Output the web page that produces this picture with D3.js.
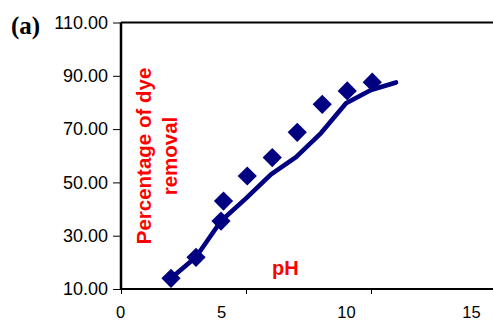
<!DOCTYPE html>
<html>
<head>
<meta charset="utf-8">
<script src="https://cdn.jsdelivr.net/npm/d3@7"></script>
<style>
  body { margin: 0; background: #fff; }
  .tick text { font-family: "Liberation Sans", Arial, sans-serif; font-size: 18px; fill: #000; }
  .tick line { stroke: #000; stroke-width: 1; }
</style>
</head>
<body>
<div id="chart"></div>
<script>
// measured points (diamonds)
var pointPH = [2, 3, 4, 4.1, 5.05, 6.05, 7.05, 8.05, 9.05, 10.05];
var pointRemoval = [14.0, 21.9, 35.5, 43.0, 52.4, 59.3, 68.8, 79.3, 84.3, 87.6];

// fitted line
var linePH = [2, 3, 4, 5, 6, 7, 8, 9, 10, 11];
var lineRemoval = [14.0, 22.0, 35.5, 44.0, 53.0, 59.5, 68.5, 79.7, 84.7, 87.5];

var yTicks = [10, 30, 50, 70, 90, 110];
var xTicks = [0, 5, 10, 15];

var width = 493, height = 320;
var margin = {left: 121, top: 22.5, right: -3, bottom: 31};

var svg = d3.select("#chart").append("svg")
    .attr("width", width)
    .attr("height", height);

var x = d3.scaleLinear().domain([0, 15]).range([margin.left, width - margin.right]);
var y = d3.scaleLinear().domain([10, 110]).range([height - margin.bottom, margin.top]);

// y axis
var yAxis = svg.append("g")
    .attr("transform", "translate(" + margin.left + ",0)")
    .call(d3.axisLeft(y).tickValues(yTicks).tickSize(8).tickPadding(5).tickFormat(d3.format(".2f")));
yAxis.select(".domain").remove();

// x axis
var xAxis = svg.append("g")
    .attr("transform", "translate(0," + y(10) + ")")
    .call(d3.axisBottom(x).tickValues(xTicks).tickSize(5).tickPadding(12));
xAxis.select(".domain").remove();
// labels in the original sit left of their ticks (except 0)
xAxis.selectAll(".tick text")
    .style("font-size", "16.5px")
    .attr("dx", function(d) { return d === 0 ? -1 : -25; });

// frame lines: left, bottom, top
svg.append("line")
    .attr("x1", x(0)).attr("x2", x(0))
    .attr("y1", y(110)).attr("y2", y(10))
    .attr("stroke", "#000").attr("stroke-width", 2.5);
svg.append("line")
    .attr("x1", x(0)).attr("x2", width)
    .attr("y1", y(10)).attr("y2", y(10))
    .attr("stroke", "#000").attr("stroke-width", 2.2);
svg.append("line")
    .attr("x1", x(0)).attr("x2", width)
    .attr("y1", y(110)).attr("y2", y(110))
    .attr("stroke", "#000").attr("stroke-width", 2.2);

// fitted line
var lineData = linePH.map(function(d, i) { return [d, lineRemoval[i]]; });
svg.append("path")
    .datum(lineData)
    .attr("fill", "none")
    .attr("stroke", "#000080")
    .attr("stroke-width", 4.6)
    .attr("stroke-linecap", "round")
    .attr("stroke-linejoin", "round")
    .attr("d", d3.line().x(function(d) { return x(d[0]); }).y(function(d) { return y(d[1]); }));

// diamonds
var diamond = d3.symbol().type(d3.symbolSquare).size(185);
svg.selectAll(".pt")
    .data(pointPH.map(function(d, i) { return [d, pointRemoval[i]]; }))
    .enter().append("path")
    .attr("class", "pt")
    .attr("d", diamond)
    .attr("fill", "#000080")
    .attr("transform", function(d) { return "translate(" + x(d[0]) + "," + y(d[1]) + ") rotate(45)"; });

// axis titles (red, inside plot)
var title = svg.append("text")
    .attr("transform", "translate(151,156) rotate(-90)")
    .attr("text-anchor", "middle")
    .style("font-family", "'Liberation Sans', Arial, sans-serif")
    .style("font-weight", "bold")
    .style("font-size", "20.5px")
    .attr("fill", "#ff0000");
title.append("tspan").attr("x", 0).attr("y", 0).text("Percentage of dye");
title.append("tspan").attr("x", 0).attr("y", 26).text("removal");

svg.append("text")
    .attr("x", 272)
    .attr("y", 274.5)
    .style("font-family", "'Liberation Sans', Arial, sans-serif")
    .style("font-weight", "bold")
    .style("font-size", "20px")
    .attr("fill", "#ff0000")
    .text("pH");

// panel label
svg.append("text")
    .attr("x", 11)
    .attr("y", 34)
    .style("font-family", "'Liberation Serif', 'Times New Roman', serif")
    .style("font-weight", "bold")
    .style("font-size", "25px")
    .attr("fill", "#000")
    .text("(a)");
</script>
</body>
</html>
